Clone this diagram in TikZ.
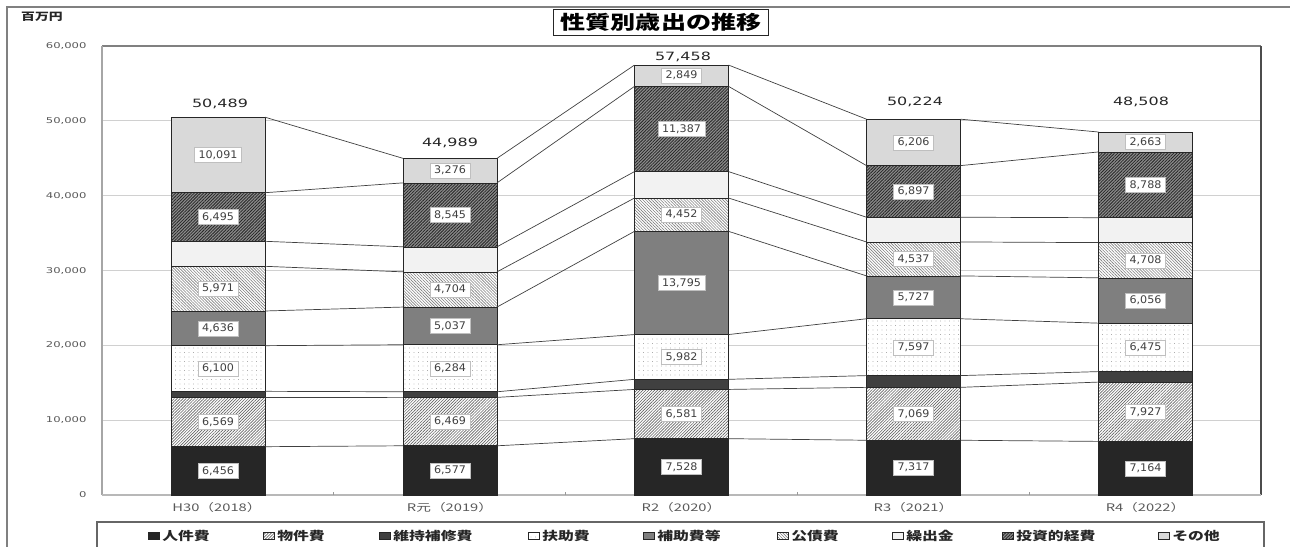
\documentclass[tikz,border=0pt]{standalone}
\usepackage{fontspec}
\usetikzlibrary{patterns.meta}
\newfontfamily\jp[FakeStretch=1.32]{Noto Sans CJK JP}
\newfontfamily\jpcat[FakeStretch=1.4]{Noto Sans CJK JP}
\newfontfamily\numA[FakeStretch=1.45]{DejaVu Sans}
\newfontfamily\numT[FakeStretch=1.4]{DejaVu Sans}
\newfontfamily\numV[FakeStretch=1.06]{DejaVu Sans}
\definecolor{c1}{HTML}{262626}
\definecolor{c3}{HTML}{404040}
\definecolor{c5}{HTML}{7F7F7F}
\definecolor{c7}{HTML}{F2F2F2}
\definecolor{c9}{HTML}{D9D9D9}
\definecolor{txt}{HTML}{404040}
\definecolor{axtxt}{HTML}{595959}
\definecolor{gridc}{HTML}{D0D0D0}
\def\nolab{n}
\newcommand\drawbar[3]{%
 \xdef\prevc{0}%
 \foreach \cum/\lab [count=\j] in {#3}{%
   \pgfmathsetmacro\ytop{495-\cum*7.483}%
   \pgfmathsetmacro\ybot{495-\prevc*7.483}%
   \path[seg\j] (#2-47,\ybot) rectangle (#2+47,\ytop);
   \coordinate (#1-\j-l) at (#2-47,\ytop);
   \coordinate (#1-\j-r) at (#2+47,\ytop);
   \ifx\lab\nolab\else
     \node[vlab] (#1-\j-v) at (#2,{(\ytop+\ybot)/2}) {\lab};
   \fi
   \xdef\prevc{\cum}%
 }%
}
\begin{document}
\begin{tikzpicture}[x=1pt,y=-1pt,
  segline/.style={draw=black!85, line width=0.6pt},
  seg1/.style={segline, fill=c1},
  seg2/.style={segline, preaction={fill=white}, pattern={Lines[angle=45,distance=2.1pt,line width=0.65pt]}, pattern color=black!60},
  seg3/.style={segline, fill=c3},
  seg4/.style={segline, preaction={fill=white}, pattern={Dots[distance=4.5pt,radius=0.45pt]}, pattern color=black!50},
  seg5/.style={segline, fill=c5},
  seg6/.style={segline, preaction={fill=white}, pattern={Lines[angle=-45,distance=2.1pt,line width=0.6pt]}, pattern color=black!50},
  seg7/.style={segline, fill=c7},
  seg8/.style={segline, preaction={fill=black!45}, pattern={Lines[angle=45,distance=2.2pt,line width=0.8pt]}, pattern color=black!85},
  seg9/.style={segline, fill=c9},
  vlab/.style={fill=white, draw=black!25, line width=0.3pt, inner xsep=4pt, inner ysep=0pt, minimum height=15pt, font=\numV\fontsize{10.5}{12}\selectfont, text=txt},
  tot/.style={font=\numT\fontsize{11.4}{13}\selectfont, text=black!85},
  ylab/.style={anchor=east, font=\numA\fontsize{8}{10}\selectfont, text=axtxt},
  cat/.style={font=\jpcat\fontsize{10.5}{12}\selectfont, text=axtxt},
  legtxt/.style={anchor=west, inner sep=0pt, font=\jp\bfseries\fontsize{12}{14}\selectfont, text=black!85},
  legmark/.style={minimum width=11pt, minimum height=6.5pt, inner sep=0pt, anchor=west},
  conn/.style={draw=black!75, line width=0.7pt},
  grid/.style={draw=gridc, line width=1.1pt},
]
\useasboundingbox (0,0) rectangle (1290,546);
\clip (0,0) rectangle (1290,546);
% outer frame
\draw[black!50, line width=1.2pt] (1295,7) -- (7,7) -- (7,560);
% title
\node[draw=black!85, line width=1.1pt, fill=white, inner xsep=7pt, inner ysep=3.5pt,
      font=\jp\bfseries\fontsize{19}{20}\selectfont] (title) at (661,22.5) {性質別歳出の推移};
\node[font=\jp\bfseries\fontsize{10.5}{12}\selectfont, text=black!85] (unit) at (42,17) {百万円};
% grid
\foreach \v in {10,20,30,40,50}
  \draw[grid] (102,{495-\v*7.483}) -- (1261,{495-\v*7.483});
\draw[black!50, line width=1.1pt] (102,46) -- (1261,46);
\draw[black!35, line width=1.1pt] (102,46) -- (102,495);
\draw[black!70, line width=1.1pt] (1261,46) -- (1261,495);
\draw[black!28, line width=1.5pt] (102,495) -- (1261,495);
\foreach \x in {333.8,565.6,797.4,1029.2}
  \draw[black!40, line width=0.8pt] (\x,495) -- (\x,492);
% y labels
\foreach \v/\t in {0/0,10/{10,000},20/{20,000},30/{30,000},40/{40,000},50/{50,000},60/{60,000}}
  \node[ylab] (y\v) at (90,{495-\v*7.483}) {\t};
% bars
\drawbar{A}{218}{6.456/{6,456},13.025/{6,569},13.855/n,19.955/{6,100},24.591/{4,636},30.562/{5,971},33.903/n,40.398/{6,495},50.489/{10,091}}
\drawbar{B}{450}{6.577/{6,577},13.046/{6,469},13.796/n,20.080/{6,284},25.117/{5,037},29.821/{4,704},33.168/n,41.713/{8,545},44.989/{3,276}}
\drawbar{C}{681.5}{7.528/{7,528},14.109/{6,581},15.459/n,21.441/{5,982},35.236/{13,795},39.688/{4,452},43.222/n,54.609/{11,387},57.458/{2,849}}
\drawbar{D}{913.5}{7.317/{7,317},14.386/{7,069},15.956/n,23.553/{7,597},29.280/{5,727},33.817/{4,537},37.121/n,44.018/{6,897},50.224/{6,206}}
\drawbar{E}{1145.5}{7.164/{7,164},15.091/{7,927},16.491/n,22.966/{6,475},29.022/{6,056},33.730/{4,708},37.057/n,45.845/{8,788},48.508/{2,663}}
% connectors
\foreach \a/\b in {A/B,B/C,C/D,D/E}
  \foreach \j in {1,...,9}
    \draw[conn] (\a-\j-r) -- (\b-\j-l);
% totals
\node[tot] (tA) at (220,104) {50,489};
\node[tot] (tB) at (450,143) {44,989};
\node[tot] (tC) at (683,57) {57,458};
\node[tot] (tD) at (915,102) {50,224};
\node[tot] (tE) at (1141,102) {48,508};
% categories
\node[cat] (kA) at (217,508) {H30（2018）};
\node[cat] (kB) at (450,508) {R元（2019）};
\node[cat] (kC) at (681.5,508) {R2（2020）};
\node[cat] (kD) at (913.5,508) {R3（2021）};
\node[cat] (kE) at (1145.5,508) {R4（2022）};
% legend
\draw[black!60, line width=1.4pt] (97,560) -- (97,522) -- (1264,522) -- (1264,560);
\foreach \x/\t [count=\j] in {148/人件費,263/物件費,379/維持補修費,528/扶助費,643/補助費等,777/公債費,892/繰出金,1002/投資的経費,1158/その他}{
  \node[seg\j, legmark] (lm\j) at (\x,536) {};
  \node[legtxt] (lt\j) at ([xshift=2.5pt]lm\j.east) {\t};
}
\end{tikzpicture}
\end{document}
